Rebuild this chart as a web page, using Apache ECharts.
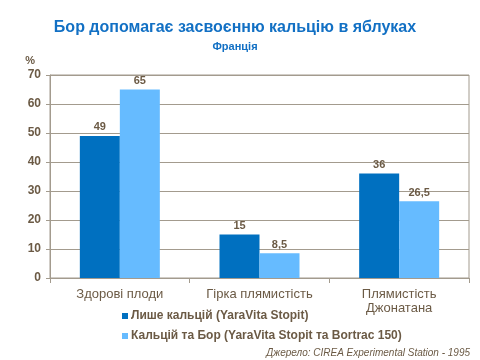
<!DOCTYPE html>
<html><head><meta charset="utf-8">
<script src="https://cdn.jsdelivr.net/npm/echarts@6/dist/echarts.min.js"></script>
<style>html,body{margin:0;padding:0;background:#fff}#c{width:480px;height:360px}</style>
</head><body><div id="c"></div>
<script>
const categories = ['Здорові плоди', 'Гірка плямистість', 'Плямистість\nДжонатана'];
const seriesNames = ['Лише кальцій (YaraVita Stopit)', 'Кальцій та Бор (YaraVita Stopit та Bortrac 150)'];
const calciumOnly = [49, 15, 36];
const calciumBoron = [65, 8.5, 26.5];
const yTicks = [0, 10, 20, 30, 40, 50, 60, 70];

const txt = '#6B5A45';
const font = 'Arial, "Liberation Sans", sans-serif';
const chart = echarts.init(document.getElementById('c'), null, {renderer: 'canvas'});
const fmt = p => String(p.value).replace('.', ',');
chart.setOption({
  animation: false,
  textStyle: {fontFamily: font},
  title: [
    {text: 'Бор допомагає засвоєнню кальцію в яблуках', left: 230, top: 15, textAlign: 'center',
     textStyle: {color: '#1270C4', fontSize: 16, fontWeight: 'bold', fontFamily: font}},
    {text: 'Франція', left: 230, top: 36, textAlign: 'center',
     textStyle: {color: '#1270C4', fontSize: 11, fontWeight: 'bold', fontFamily: font}},
    {text: 'Джерело: CIREA Experimental Station - 1995', right: 5, top: 343,
     textStyle: {color: txt, fontSize: 10, fontStyle: 'italic', fontWeight: 'normal', fontFamily: font}}
  ],
  legend: {
    orient: 'vertical', left: 117, top: 305, itemWidth: 6, itemHeight: 6, itemGap: 8,
    icon: 'rect', data: seriesNames,
    textStyle: {color: txt, fontSize: 12, fontWeight: 'bold', fontFamily: font, padding: [0, 0, 0, -2]}
  },
  grid: {left: 50, right: 11, top: 75, bottom: 82, show: true, borderColor: '#A39B8E', borderWidth: 1, containLabel: false},
  xAxis: {
    type: 'category', data: categories,
    axisLine: {lineStyle: {color: '#A39B8E'}},
    axisTick: {show: true, length: 5, lineStyle: {color: '#A39B8E'}},
    axisLabel: {color: txt, fontSize: 13, fontFamily: font, margin: 9, lineHeight: 14, interval: 0}
  },
  yAxis: {
    type: 'value', min: 0, max: 70, interval: 10,
    name: '%', nameLocation: 'end', nameGap: 9,
    nameTextStyle: {color: txt, fontSize: 11, fontWeight: 'bold', align: 'right', padding: [0, 15, 0, 0]},
    axisLine: {show: true, lineStyle: {color: '#A39B8E'}},
    axisTick: {show: true, length: 4, lineStyle: {color: '#A39B8E'}},
    splitLine: {lineStyle: {color: '#A39B8E'}},
    axisLabel: {color: txt, fontSize: 12, fontWeight: 'bold', margin: 9,
      customValues: yTicks}
  },
  series: [
    {name: seriesNames[0], type: 'bar', data: calciumOnly, barWidth: 40, barGap: '0%',
     itemStyle: {color: '#0070C0'},
     label: {show: true, position: 'top', distance: 3, color: txt, fontSize: 11, fontWeight: 'bold', formatter: fmt}},
    {name: seriesNames[1], type: 'bar', data: calciumBoron, barWidth: 40, barGap: '0%',
     itemStyle: {color: '#66BBFF'},
     label: {show: true, position: 'top', distance: 3, color: txt, fontSize: 11, fontWeight: 'bold', formatter: fmt}}
  ]
});
</script></body></html>
